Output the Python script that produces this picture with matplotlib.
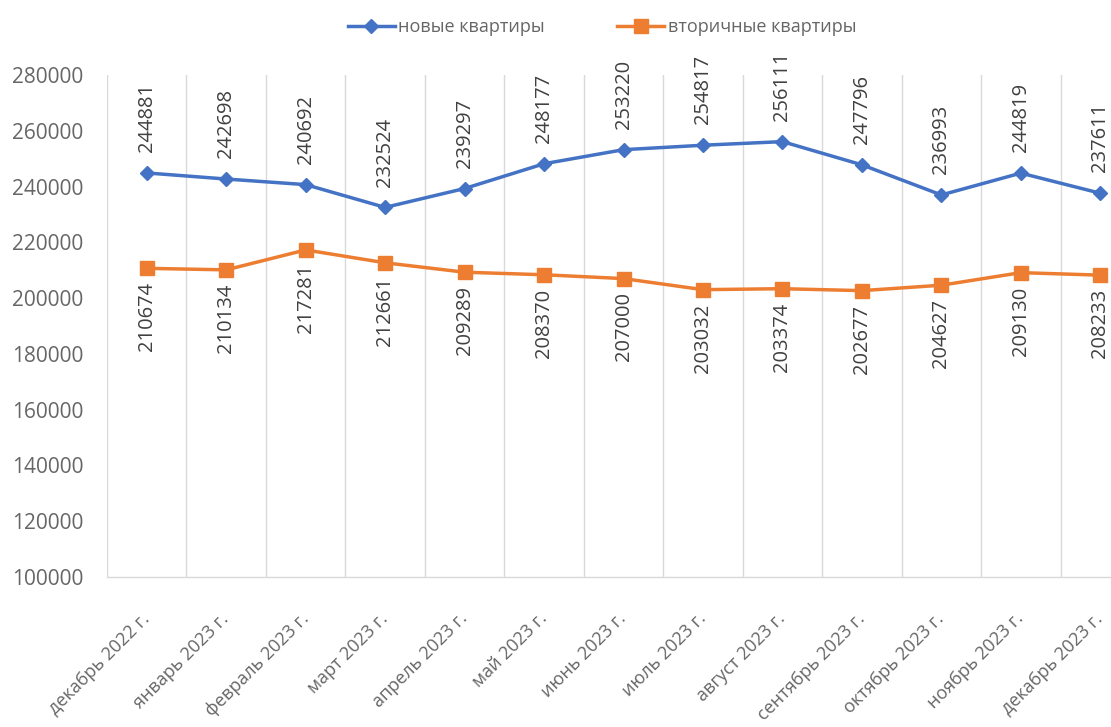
import matplotlib
matplotlib.use("Agg")
import matplotlib.pyplot as plt
import numpy as np

months = [
    "декабрь 2022 г.", "январь 2023 г.", "февраль 2023 г.", "март 2023 г.",
    "апрель 2023 г.", "май 2023 г.", "июнь 2023 г.", "июль 2023 г.",
    "август 2023 г.", "сентябрь 2023 г.", "октябрь 2023 г.", "ноябрь 2023 г.",
    "декабрь 2023 г.",
]
new_flats = [244881, 242698, 240692, 232524, 239297, 248177, 253220,
             254817, 256111, 247796, 236993, 244819, 237611]
old_flats = [210674, 210134, 217281, 212661, 209289, 208370, 207000,
             203032, 203374, 202677, 204627, 209130, 208233]
y_ticks = [100000, 120000, 140000, 160000, 180000, 200000, 220000, 240000, 260000, 280000]

BLUE = "#4472C4"
ORANGE = "#ED7D31"
GRAY = "#666666"
GRID = "#D9D9D9"

plt.rcParams["font.family"] = ["Open Sans", "DejaVu Sans"]

fig = plt.figure(figsize=(11.11, 7.27), dpi=100)
# axes deliberately run past the right edge, as in the source image
ax = fig.add_axes([107 / 1111, 150 / 727, 1033 / 1111, 502 / 727])

x = np.arange(len(months))
ax.plot(x, new_flats, color=BLUE, lw=2.5, marker="D", ms=7.5,
        label="новые квартиры", zorder=3)
ax.plot(x, old_flats, color=ORANGE, lw=2.5, marker="s", ms=10,
        label="вторичные квартиры", zorder=3)

for xi, v in zip(x, new_flats):
    ax.annotate(str(v), (xi, v), xytext=(0, 15), textcoords="offset points",
                rotation=90, ha="center", va="bottom", fontsize=14.5,
                color="#404040", annotation_clip=False)
for xi, v in zip(x, old_flats):
    ax.annotate(str(v), (xi, v), xytext=(0, -10), textcoords="offset points",
                rotation=90, ha="center", va="top", fontsize=14.5,
                color="#404040", annotation_clip=False)

ax.set_xlim(-0.5, len(months) - 0.5)
ax.set_ylim(100000, 280000)
ax.set_yticks(y_ticks)
ax.set_yticklabels([str(t) for t in y_ticks])
ax.set_xticks(x)
ax.set_xticklabels(months, rotation=45, ha="right", va="center",
                   rotation_mode="anchor")
ax.set_xticks(np.arange(-0.5, len(months), 1.0), minor=True)
ax.grid(True, which="minor", axis="x", color=GRID, lw=1.0)
ax.grid(False, which="major")
ax.tick_params(axis="both", which="both", length=0)
ax.tick_params(axis="y", labelsize=15, labelcolor=GRAY, pad=17)
ax.tick_params(axis="x", labelsize=13, labelcolor=GRAY, pad=28)

for s in ["top", "right", "left"]:
    ax.spines[s].set_visible(False)
ax.spines["bottom"].set_color(GRID)
ax.spines["bottom"].set_linewidth(1.0)

leg = fig.legend(loc="center", bbox_to_anchor=(602 / 1111, 1 - 27 / 727),
                 ncol=2, frameon=False, fontsize=13, handlelength=2.6,
                 columnspacing=4.0, handletextpad=0.2)
for t in leg.get_texts():
    t.set_color(GRAY)

fig.savefig("out.png", dpi=100)
